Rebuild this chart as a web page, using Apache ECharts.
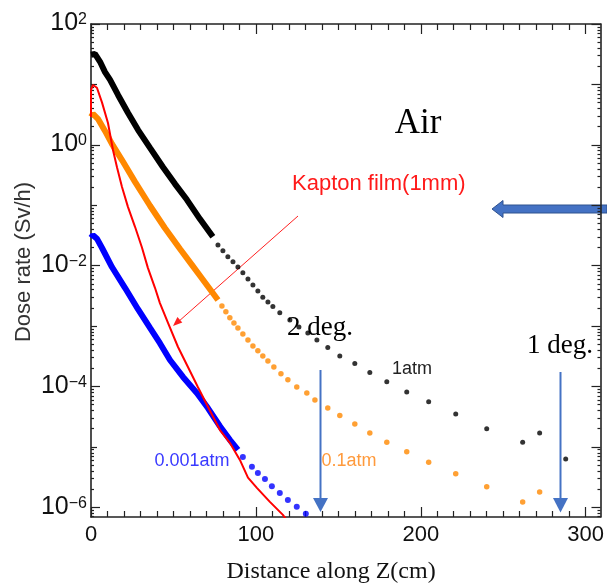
<!DOCTYPE html>
<html><head><meta charset="utf-8">
<script src="https://cdn.jsdelivr.net/npm/echarts@6/dist/echarts.min.js"></script>
<style>html,body{margin:0;padding:0;background:#fff}#c{width:607px;height:585px}</style>
</head><body><div id="c"></div>
<script>
// ---- data (distance in cm, dose rate in Sv/h) ----
// 1 atm (black): dense part drawn as a thick line, sparse part as dots
const atm1LineX = [0, 2.4, 5.5, 8.5, 11.5, 16.4, 22.4, 28.5, 35.8, 43.6, 50.9, 58.2, 66.1, 73.9];
const atm1LineV = [31, 32, 23.7, 16, 12, 6.7, 3.4, 1.77, 0.89, 0.43, 0.226, 0.123, 0.059, 0.030];
const atm1DotX = [77.0, 80.0, 83.0, 86.1, 89.1, 92.1, 95.2, 98.2, 101.2, 104.2, 107.3, 110.3, 114.5, 120.6, 126.1, 131.5, 137.0, 143.6, 150.9, 160.0, 169.1, 179.4, 191.5, 204.8, 221.2, 240.0, 261.8, 272.1, 287.9];
const atm1DotV = [0.022, 0.0177, 0.0140, 0.0116, 0.0095, 0.0076, 0.0060, 0.0048, 0.0038, 0.0030, 0.0025, 0.0021, 0.00166, 0.00126, 0.00097, 0.00077, 0.00059, 0.00044, 0.00032, 0.00024, 0.00017, 0.00012, 8.1e-5, 5.6e-5, 3.5e-5, 2.0e-5, 1.2e-5, 1.7e-5, 6.3e-6];
// 0.1 atm (orange)
const atm01LineX = [0, 1.2, 4.2, 8.5, 12.7, 18.8, 26.7, 35.8, 44.8, 53.9, 61.2, 66.1, 73.3, 77.0];
const atm01LineV = [2.9, 3.25, 2.7, 1.70, 1.04, 0.56, 0.244, 0.098, 0.042, 0.019, 0.0103, 0.0068, 0.0037, 0.0027];
const atm01DotX = [79.4, 81.8, 84.2, 86.7, 89.1, 92.1, 95.2, 98.2, 101.2, 104.2, 107.3, 110.9, 115.2, 119.4, 124.8, 130.9, 135.8, 143.6, 150.9, 160.0, 169.1, 179.4, 191.5, 204.8, 221.2, 240.0, 261.8, 272.1];
const atm01DotV = [2.15e-3, 1.73e-3, 1.37e-3, 1.13e-3, 9.3e-4, 7.4e-4, 5.9e-4, 4.7e-4, 3.9e-4, 3.2e-4, 2.65e-4, 2.1e-4, 1.62e-4, 1.29e-4, 9.8e-5, 7.8e-5, 6.0e-5, 4.4e-5, 3.3e-5, 2.4e-5, 1.7e-5, 1.2e-5, 8.3e-6, 5.6e-6, 3.6e-6, 2.2e-6, 1.23e-6, 1.8e-6];
// 0.001 atm (blue)
const atm0001LineX = [0, 1.2, 3.6, 6.7, 12.7, 20.6, 28.5, 35.8, 41.8, 47.9, 55.8, 64.2, 70.9, 78.2, 84.2, 89.1];
const atm0001LineV = [0.029, 0.032, 0.028, 0.0196, 0.0095, 0.0043, 0.0019, 9.3e-4, 5.2e-4, 2.75e-4, 1.44e-4, 7.8e-5, 4.4e-5, 2.2e-5, 1.31e-5, 8.9e-6];
const atm0001DotX = [92.1, 97.6, 101.2, 105.5, 109.7, 114.5, 119.4, 124.8, 130.3];
const atm0001DotV = [6.8e-6, 4.7e-6, 3.7e-6, 2.95e-6, 2.24e-6, 1.73e-6, 1.32e-6, 1.02e-6, 7.8e-7];
// Kapton film 1mm (red)
const kaptonX = [0, 0, 1.2, 3.6, 6.7, 10.3, 13.3, 15.8, 18.8, 22.4, 26.7, 30.9, 34.5, 38.8, 41.8, 46.7, 52.7, 58.8, 64.8, 70.3, 78.2, 84.2, 90.3, 95.2, 100.6, 108.5, 116.4, 118.5];
const kaptonV = [2.9, 8.1, 9.8, 8.8, 5.0, 2.3, 0.83, 0.42, 0.20, 0.094, 0.044, 0.020, 0.0092, 0.0043, 0.0024, 0.00113, 4.55e-4, 2.1e-4, 9.8e-5, 5.0e-5, 1.9e-5, 1.17e-5, 6.1e-6, 3.1e-6, 2.1e-6, 1.23e-6, 7.5e-7, 6.2e-7];

// ---- axes ----
const xTickLabels = [0, 100, 200, 300];
const yDecadeLabels = [2, 0, -2, -4, -6];       // exponents shown as 10^n
const yOddDecades = [1, -1, -3, -5];
const X_MAX = 309, Y_MIN = -6.16, Y_MAX = 2;

const yMinor = [];
for (let n = -7; n < 2; n++) for (let k = 2; k < 10; k++) { const v = n + Math.log10(k); if (v > Y_MIN && v < Y_MAX) yMinor.push(v); }
const xMinor = [];
for (let v = 10; v < X_MAX; v += 10) if (v % 100) xMinor.push(v);

const pairs = (xs, vs) => xs.map((x, i) => [x, Math.log10(vs[i])]);

const AX = '#222';
const tickStyle = { color: AX, width: 1.2 };
const xBase = { type: 'value', min: 0, max: X_MAX, splitLine: { show: false }, axisLine: { show: false, onZero: false }, axisLabel: { show: false }, axisTick: { show: false } };
const yBase = { type: 'value', min: Y_MIN, max: Y_MAX, splitLine: { show: false }, axisLine: { show: false, onZero: false }, axisLabel: { show: false }, axisTick: { show: false } };
const lineShow = { show: true, onZero: false, lineStyle: { color: AX, width: 1.6 } };

const expText = n => n < 0 ? '\u2212' + (-n) : String(n);

const chart = echarts.init(document.getElementById('c'));
chart.setOption({
  animation: false,
  backgroundColor: '#fff',
  grid: { left: 91, top: 24, right: 6, bottom: 68, containLabel: false },
  xAxis: [
    { ...xBase, position: 'bottom', axisLine: lineShow,
      axisTick: { show: true, inside: true, length: 10, customValues: xTickLabels, lineStyle: tickStyle },
      axisLabel: { show: true, customValues: xTickLabels, margin: 7, fontSize: 22, fontFamily: 'Liberation Sans', color: '#111' } },
    { ...xBase, position: 'bottom', axisTick: { show: true, inside: true, length: 6, customValues: xMinor, lineStyle: tickStyle } },
    { ...xBase, position: 'top', axisLine: lineShow,
      axisTick: { show: true, inside: true, length: 10, customValues: xTickLabels, lineStyle: tickStyle } },
    { ...xBase, position: 'top', axisTick: { show: true, inside: true, length: 6, customValues: xMinor, lineStyle: tickStyle } }
  ],
  yAxis: [
    { ...yBase, position: 'left', axisLine: lineShow,
      axisTick: { show: true, inside: true, length: 9, customValues: yDecadeLabels, lineStyle: tickStyle },
      axisLabel: { show: true, customValues: yDecadeLabels, margin: 4,
        formatter: v => '{b|10}{s|' + expText(Math.round(v)) + '}',
        rich: {
          b: { fontSize: 25, fontFamily: 'Liberation Sans', color: '#111', lineHeight: 24, padding: [6, 0, 0, 0], verticalAlign: 'bottom' },
          s: { fontSize: 16, fontFamily: 'Liberation Sans', color: '#111', lineHeight: 16, verticalAlign: 'top' }
        } } },
    { ...yBase, position: 'left', axisTick: { show: true, inside: true, length: 6, customValues: yOddDecades, lineStyle: tickStyle } },
    { ...yBase, position: 'left', axisTick: { show: true, inside: true, length: 3, customValues: yMinor, lineStyle: tickStyle } },
    { ...yBase, position: 'right', axisLine: lineShow,
      axisTick: { show: true, inside: true, length: 9, customValues: yDecadeLabels.concat(yOddDecades), lineStyle: tickStyle } },
    { ...yBase, position: 'right', axisTick: { show: true, inside: true, length: 3, customValues: yMinor, lineStyle: tickStyle } }
  ],
  series: [
    { type: 'line', data: pairs(atm01LineX, atm01LineV), showSymbol: false, lineStyle: { color: '#ff8800', width: 6 }, z: 2 },
    { type: 'scatter', data: pairs(atm01DotX, atm01DotV), symbolSize: 5.5, itemStyle: { color: '#ff8800' }, z: 2 },
    { type: 'line', data: pairs(atm1LineX, atm1LineV), showSymbol: false, lineStyle: { color: '#000', width: 6 }, z: 3 },
    { type: 'scatter', data: pairs(atm1DotX, atm1DotV), symbolSize: 5, itemStyle: { color: '#000' }, z: 3 },
    { type: 'line', data: pairs(atm0001LineX, atm0001LineV), showSymbol: false, lineStyle: { color: '#0000ff', width: 6 }, z: 3 },
    { type: 'scatter', data: pairs(atm0001DotX, atm0001DotV), symbolSize: 6, itemStyle: { color: '#0000ff' }, z: 3 },
    { type: 'line', data: pairs(kaptonX, kaptonV), showSymbol: false, lineStyle: { color: '#ff0000', width: 2 }, z: 4 }
  ],
  graphic: [
    { type: 'text', x: 24, y: 262, rotation: Math.PI / 2, style: { text: 'Dose rate (Sv/h)', fontSize: 22, fontFamily: 'Liberation Sans', fill: '#333', align: 'center', verticalAlign: 'middle' } },
    { type: 'text', x: 331, y: 572, style: { text: 'Distance along Z(cm)', fontSize: 24, fontFamily: 'Liberation Serif', fill: '#111', align: 'center', verticalAlign: 'middle' } },
    { type: 'text', x: 418, y: 124, style: { text: 'Air', fontSize: 35, fontFamily: 'Liberation Serif', fill: '#000', align: 'center', verticalAlign: 'middle' } },
    { type: 'text', x: 292, y: 184, style: { text: 'Kapton film(1mm)', fontSize: 22, fontFamily: 'Liberation Sans', fill: '#ff1a1a', align: 'left', verticalAlign: 'middle' } },
    { type: 'line', shape: { x1: 298, y1: 216, x2: 178, y2: 322 }, style: { stroke: '#ff2020', lineWidth: 1 } },
    { type: 'polygon', shape: { points: [[173, 326], [182.3, 322.6], [177.4, 317.1]] }, style: { fill: '#ff2020' } },
    { type: 'polygon', shape: { points: [[492, 209], [503, 200.5], [503, 205], [607, 205], [607, 213], [503, 213], [503, 217.5]] }, style: { fill: '#4472c4', stroke: '#2f528f', lineWidth: 1 } },
    { type: 'text', x: 320, y: 328, style: { text: '2 deg.', fontSize: 27, fontFamily: 'Liberation Serif', fill: '#000', align: 'center', verticalAlign: 'middle' } },
    { type: 'text', x: 560, y: 346, style: { text: '1 deg.', fontSize: 27, fontFamily: 'Liberation Serif', fill: '#000', align: 'center', verticalAlign: 'middle' } },
    { type: 'line', shape: { x1: 320.5, y1: 370, x2: 320.5, y2: 500 }, style: { stroke: '#4472c4', lineWidth: 2 } },
    { type: 'polygon', shape: { points: [[313, 498], [328, 498], [320.5, 512]] }, style: { fill: '#4472c4' } },
    { type: 'line', shape: { x1: 560.5, y1: 372, x2: 560.5, y2: 500 }, style: { stroke: '#4472c4', lineWidth: 2 } },
    { type: 'polygon', shape: { points: [[553, 498], [568, 498], [560.5, 512.5]] }, style: { fill: '#4472c4' } },
    { type: 'text', x: 412, y: 369, style: { text: '1atm', fontSize: 18, fontFamily: 'Liberation Sans', fill: '#222', align: 'center', verticalAlign: 'middle' } },
    { type: 'text', x: 192, y: 461, style: { text: '0.001atm', fontSize: 18, fontFamily: 'Liberation Sans', fill: '#3a3aff', align: 'center', verticalAlign: 'middle' } },
    { type: 'text', x: 349, y: 461, style: { text: '0.1atm', fontSize: 18, fontFamily: 'Liberation Sans', fill: '#ff9a3c', align: 'center', verticalAlign: 'middle' } }
  ]
});
</script>
</body></html>
